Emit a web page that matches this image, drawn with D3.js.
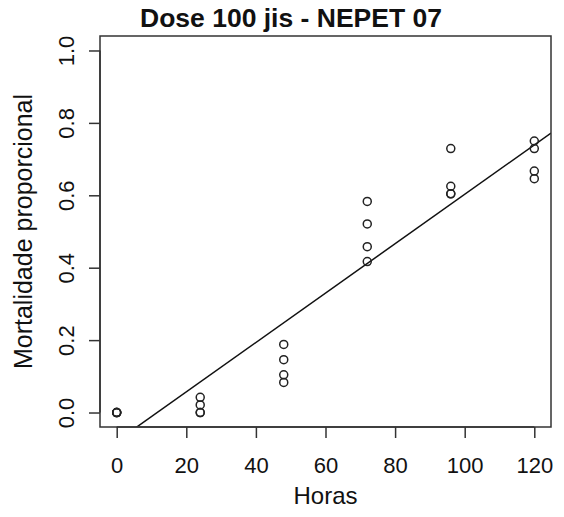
<!DOCTYPE html>
<html lang="pt">
<head>
    <meta charset="utf-8">
    <title>Dose 100 jis - NEPET 07</title>
    <script src="https://d3js.org/d3.v7.min.js"></script>
    <style>
        body { margin: 0; background: #fff; }
        svg text { font-family: "Liberation Sans", Arial, sans-serif; fill: #111; }
    </style>
</head>
<body>
<svg width="564" height="517"></svg>
<script>
    // dados (horas e mortalidade proporcional)
    var horas = [0, 0, 0, 0,
                 24, 24, 24, 24,
                 48, 48, 48, 48,
                 72, 72, 72, 72,
                 96, 96, 96, 96,
                 120, 120, 120, 120];
    var mortalidade = [0, 0, 0, 0,
                       0, 0, 0.021, 0.042,
                       0.083, 0.104, 0.146, 0.188,
                       0.417, 0.458, 0.521, 0.583,
                       0.604, 0.604, 0.625, 0.729,
                       0.646, 0.667, 0.729, 0.750];
    var xTicks = [0, 20, 40, 60, 80, 100, 120];
    var yTicks = [0, 0.2, 0.4, 0.6, 0.8, 1.0];

    var box = {left: 100, right: 551, top: 36, bottom: 427};
    var svg = d3.select("svg");

    // escalas no estilo do R (faixa estendida em 4%)
    var x = d3.scaleLinear().domain([-4.8, 124.8]).range([box.left, box.right]);
    var y = d3.scaleLinear().domain([-0.04, 1.04]).range([box.bottom, box.top]);

    // reta de regressão (mínimos quadrados)
    var mx = d3.mean(horas), my = d3.mean(mortalidade);
    var sxy = d3.sum(horas, function(h, i){ return (h - mx) * (mortalidade[i] - my); });
    var sxx = d3.sum(horas, function(h){ return (h - mx) * (h - mx); });
    var b = sxy / sxx, a = my - b * mx;

    svg.append("clipPath").attr("id", "clip")
        .append("rect")
        .attr("x", box.left).attr("y", box.top)
        .attr("width", box.right - box.left).attr("height", box.bottom - box.top);

    svg.append("line")
        .attr("clip-path", "url(#clip)")
        .attr("x1", x(-4.8)).attr("y1", y(a + b * -4.8))
        .attr("x2", x(124.8)).attr("y2", y(a + b * 124.8))
        .attr("stroke", "#111").attr("stroke-width", 1.5);

    svg.selectAll("circle")
        .data(horas)
        .enter()
        .append("circle")
        .attr("cx", function(d){ return x(d); })
        .attr("cy", function(d, i){ return y(mortalidade[i]); })
        .attr("r", 4)
        .attr("fill", "none")
        .attr("stroke", "#222")
        .attr("stroke-width", 1.5);

    // caixa
    svg.append("rect")
        .attr("x", box.left).attr("y", box.top)
        .attr("width", box.right - box.left).attr("height", box.bottom - box.top)
        .attr("fill", "none").attr("stroke", "#333").attr("stroke-width", 1.5);

    // eixo x
    var xAxis = d3.axisBottom(x).tickValues(xTicks).tickSize(11).tickSizeOuter(0);
    var gx = svg.append("g").attr("transform", "translate(0," + box.bottom + ")").call(xAxis);
    gx.select(".domain")
        .attr("d", "M" + x(0) + ",0H" + x(120))
        .attr("stroke", "#333").attr("stroke-width", 1.5);
    gx.selectAll(".tick line").attr("stroke", "#333").attr("stroke-width", 1.5);
    gx.selectAll(".tick text")
        .attr("y", 46).attr("dy", null)
        .style("font-size", "22px").attr("fill", "#111");

    // eixo y (rótulos rotacionados como no R)
    var yAxis = d3.axisLeft(y).tickValues(yTicks).tickSize(11).tickFormat(d3.format(".1f")).tickSizeOuter(0);
    var gy = svg.append("g").attr("transform", "translate(" + box.left + ",0)").call(yAxis);
    gy.select(".domain")
        .attr("d", "M0," + y(0) + "V" + y(1))
        .attr("stroke", "#333").attr("stroke-width", 1.5);
    gy.selectAll(".tick line").attr("stroke", "#333").attr("stroke-width", 1.5);
    gy.selectAll(".tick text")
        .attr("x", 0).attr("y", 0).attr("dy", null)
        .attr("text-anchor", "middle")
        .attr("transform", "translate(-26,0) rotate(-90)")
        .style("font-size", "22px").attr("fill", "#111");

    svg.append("text")
        .attr("x", 291).attr("y", 27)
        .attr("text-anchor", "middle")
        .style("font-size", "26.5px").style("font-weight", "bold")
        .text("Dose 100 jis - NEPET 07");

    svg.append("text")
        .attr("x", (box.left + box.right) / 2).attr("y", 504)
        .attr("text-anchor", "middle")
        .style("font-size", "24px")
        .text("Horas");

    svg.append("text")
        .attr("transform", "translate(32," + ((box.top + box.bottom) / 2) + ") rotate(-90)")
        .attr("text-anchor", "middle")
        .style("font-size", "25px")
        .text("Mortalidade proporcional");
</script>
</body>
</html>
